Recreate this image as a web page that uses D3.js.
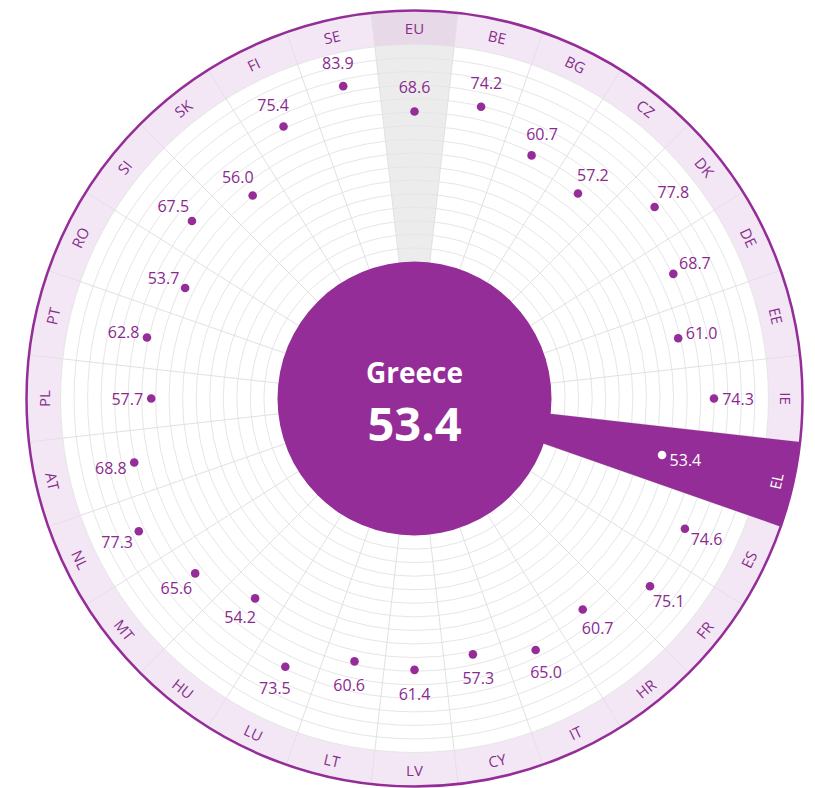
<!DOCTYPE html>
<html>
<head>
    <meta charset="utf-8">
    <script src="https://d3js.org/d3.v7.min.js"></script>
    <style>
        body { margin: 0; background: #fff; }
        svg { display: block; }
    </style>
</head>
<body>
<script>
    /* chart data */
    var countries = ["EU", "BE", "BG", "CZ", "DK", "DE", "EE", "IE", "EL", "ES", "FR", "HR", "IT", "CY",
                     "LV", "LT", "LU", "HU", "MT", "NL", "AT", "PL", "PT", "RO", "SI", "SK", "FI", "SE"];
    var values = [68.6, 74.2, 60.7, 57.2, 77.8, 68.7, 61.0, 74.3, 53.4, 74.6, 75.1, 60.7, 65.0, 57.3,
                  61.4, 60.6, 73.5, 54.2, 65.6, 77.3, 68.8, 57.7, 62.8, 53.7, 67.5, 56.0, 75.4, 83.9];
    var highlightCode = "EL";
    var highlightName = "Greece";
    var averageCode = "EU";
    var valueDomain = [0, 100];

    /* layout globals */
    var width = 815, height = 788;
    var cx = 414.5, cy = 398.5;
    var rOut = 388, rBand = 354, rIn = 137;
    var purple = "#952d98";
    var ringCount = 16;

    var svg = d3.select("body").append("svg")
        .attr("width", width).attr("height", height)
        .append("g")
        .attr("transform", "translate(" + cx + "," + cy + ")");

    /* angular band scale: each sector centred on its country */
    var step = 2 * Math.PI / countries.length;
    var x = d3.scaleBand()
        .domain(countries)
        .range([-step / 2, 2 * Math.PI - step / 2])
        .paddingInner(0).paddingOuter(0);
    var y = d3.scaleLinear().domain(valueDomain).range([137.5, 355.5]);

    function mid(c) { return x(c) + x.bandwidth() / 2; }
    function px(a, r) { return r * Math.sin(a); }
    function py(a, r) { return -r * Math.cos(a); }

    var arc = d3.arc();

    /* outer label band */
    svg.append("path")
        .attr("d", arc({innerRadius: rBand, outerRadius: rOut, startAngle: 0, endAngle: 2 * Math.PI}))
        .attr("fill", "#f4e7f5");

    /* EU average sector in grey */
    svg.append("path")
        .attr("d", arc({innerRadius: rIn, outerRadius: rBand, startAngle: x(averageCode), endAngle: x(averageCode) + x.bandwidth()}))
        .attr("fill", "#ececec");
    svg.append("path")
        .attr("d", arc({innerRadius: rBand, outerRadius: rOut, startAngle: x(averageCode), endAngle: x(averageCode) + x.bandwidth()}))
        .attr("fill", "#e7d9e7");

    /* concentric grid rings */
    var ringScale = d3.scaleLinear().domain([0, ringCount]).range([rIn, rBand]);
    svg.append("g").selectAll("circle")
        .data(d3.range(1, ringCount + 1))
        .join("circle")
        .attr("r", function(d) { return ringScale(d); })
        .attr("fill", "none")
        .attr("stroke", "#e6e6e6")
        .attr("stroke-width", 1);

    /* sector separators */
    svg.append("g").selectAll("line")
        .data(countries)
        .join("line")
        .attr("x1", function(d) { return px(x(d), rIn); })
        .attr("y1", function(d) { return py(x(d), rIn); })
        .attr("x2", function(d) { return px(x(d), rOut); })
        .attr("y2", function(d) { return py(x(d), rOut); })
        .attr("stroke", "#e3e0e3")
        .attr("stroke-width", 1);

    /* highlighted country wedge */
    svg.append("path")
        .attr("d", arc({innerRadius: rIn - 5, outerRadius: rOut, startAngle: x(highlightCode), endAngle: x(highlightCode) + x.bandwidth()}))
        .attr("fill", purple);

    /* centre disc */
    svg.append("circle").attr("r", rIn).attr("fill", purple);
    var hv = values[countries.indexOf(highlightCode)];
    svg.append("text")
        .attr("x", 0).attr("y", -16)
        .attr("text-anchor", "middle")
        .style("font-family", "'Open Sans', sans-serif")
        .style("font-weight", "bold")
        .style("font-size", "28px")
        .attr("fill", "#fff")
        .text(highlightName);
    svg.append("text")
        .attr("x", 0).attr("y", 42)
        .attr("text-anchor", "middle")
        .style("font-family", "'Open Sans', sans-serif")
        .style("font-weight", "bold")
        .style("font-size", "47px")
        .attr("fill", "#fff")
        .text(hv.toFixed(1));

    /* dots and value labels */
    var pts = countries.map(function(c, i) { return {code: c, value: values[i]}; });
    var g = svg.append("g").selectAll("g").data(pts).join("g");
    g.append("circle")
        .attr("cx", function(d) { return px(mid(d.code), y(d.value)); })
        .attr("cy", function(d) { return py(mid(d.code), y(d.value)); })
        .attr("r", 4.3)
        .attr("fill", function(d) { return d.code === highlightCode ? "#fff" : purple; });
    g.append("text")
        .attr("x", function(d) { return px(mid(d.code), y(d.value) + 24); })
        .attr("y", function(d) { return py(mid(d.code), y(d.value) + 24); })
        .attr("text-anchor", "middle")
        .attr("dominant-baseline", "central")
        .style("font-family", "'Open Sans', sans-serif")
        .style("font-size", "16px")
        .attr("fill", function(d) { return d.code === highlightCode ? "#fff" : "#8a2a8e"; })
        .text(function(d) { return d.value.toFixed(1); });

    /* country labels in the band */
    var rLab = (rBand + rOut) / 2;
    svg.append("g").selectAll("text")
        .data(countries)
        .join("text")
        .attr("transform", function(d) {
            var a = mid(d), deg = a * 180 / Math.PI;
            if (deg < 0) deg += 360;
            var rot = (deg > 90 && deg < 270) ? deg - 180 : deg;
            return "translate(" + px(a, rLab) + "," + py(a, rLab) + ") rotate(" + rot + ")";
        })
        .attr("text-anchor", "middle")
        .attr("dominant-baseline", "central")
        .style("font-family", "'Open Sans', sans-serif")
        .style("font-size", "15px")
        .attr("fill", function(d) { return d === highlightCode ? "#fff" : "#86308b"; })
        .text(function(d) { return d; });

    /* outer rim */
    svg.append("circle")
        .attr("r", rOut)
        .attr("fill", "none")
        .attr("stroke", purple)
        .attr("stroke-width", 2.5);
</script>
</body>
</html>
